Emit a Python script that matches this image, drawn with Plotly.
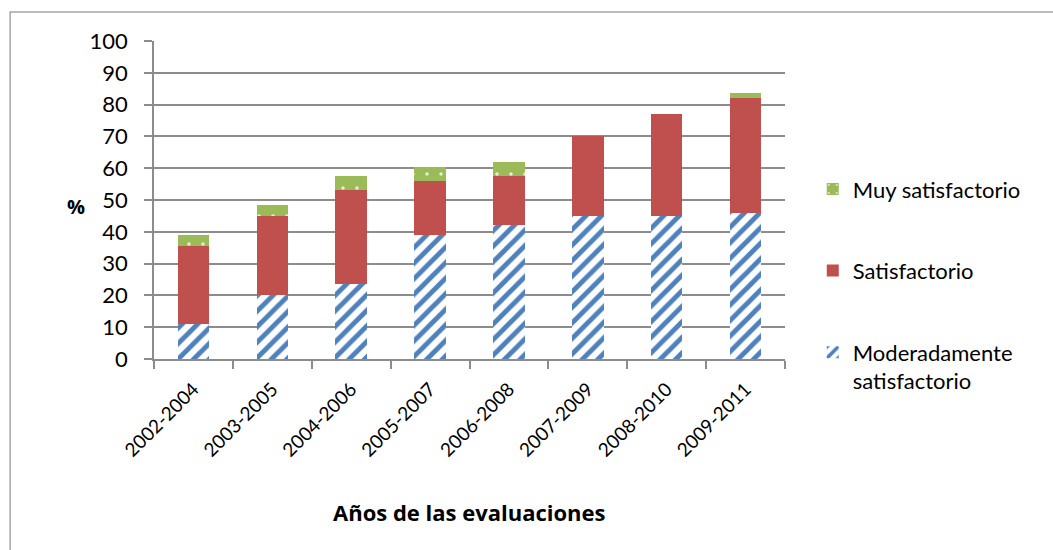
import plotly.graph_objects as go

# Evaluation periods and share of projects (%) by rating
periodos = ["2002-2004", "2003-2005", "2004-2006", "2005-2007",
            "2006-2008", "2007-2009", "2008-2010", "2009-2011"]
moderadamente = [11, 20, 23.5, 39, 42, 45, 45, 46]
satisfactorio = [24.5, 25, 29.5, 17, 15.5, 25, 32, 36]
muy_satisfactorio = [3.5, 3.5, 4.5, 4.5, 4.5, 0, 0, 1.5]
y_ticks = [0, 10, 20, 30, 40, 50, 60, 70, 80, 90, 100]

FONT = "Lato"
TITLE_FONT = "Open Sans"
GRID = "#8C8C8C"

fig = go.Figure()
fig.add_trace(go.Bar(
    x=periodos, y=moderadamente, name="Moderadamente<br>satisfactorio",
    legendgroup="m", legendrank=3,
    marker=dict(color="white", line=dict(width=0),
                pattern=dict(shape="/", fgcolor="#4F81BD", bgcolor="white",
                             size=11, solidity=0.45, fillmode="replace",
                             fgopacity=1)),
))
fig.add_trace(go.Bar(
    x=periodos, y=satisfactorio, name="Satisfactorio", legendgroup="s",
    legendrank=2,
    marker=dict(color="#C0504D", line=dict(width=0)),
))
fig.add_trace(go.Bar(
    x=periodos, y=muy_satisfactorio, name="Muy satisfactorio", legendgroup="v",
    legendrank=1,
    marker=dict(color="#9BBB59", line=dict(width=0),
                pattern=dict(shape=".", fgcolor="#E6EED6", bgcolor="#9BBB59",
                             size=14, solidity=0.05, fillmode="replace",
                             fgopacity=1)),
))

fig.update_layout(
    width=1053, height=550, autosize=False,
    margin=dict(l=154, r=268, t=41, b=191),
    paper_bgcolor="white", plot_bgcolor="white",
    barmode="stack", bargap=0.6,
    font=dict(family=FONT, size=21, color="black"),
    legend=dict(x=1.044, xanchor="left", y=0.6, yanchor="top",
                traceorder="grouped", tracegroupgap=50,
                valign="top", font=dict(size=22), itemwidth=30),
    showlegend=True,
)
fig.update_yaxes(
    range=[0, 100], tickvals=y_ticks, showgrid=True, gridcolor=GRID,
    gridwidth=1.5, showline=True, linecolor=GRID, linewidth=1.5,
    ticks="outside", ticklen=8, tickcolor=GRID, tickwidth=1.5,
    ticklabelstandoff=12, zeroline=False, fixedrange=True,
    tickfont=dict(size=22),
)
fig.update_xaxes(
    showline=True, linecolor=GRID, linewidth=1.5, ticks="outside",
    tickson="boundaries", ticklen=8, tickcolor=GRID, tickwidth=1.5,
    tickangle=-45, showgrid=False, fixedrange=True,
    ticklabelstandoff=10, tickfont=dict(size=19),
)

# Axis titles
fig.add_annotation(text="<b>Años de las evaluaciones</b>", xref="paper", yref="paper",
                   x=0.5, y=-0.481, yanchor="middle", showarrow=False,
                   font=dict(family=TITLE_FONT, size=22))
fig.add_annotation(text="<b>%</b>", xref="paper", yref="paper",
                   x=-0.141, y=0.478, yanchor="middle", showarrow=False,
                   font=dict(family=TITLE_FONT, size=20))

# Chart frame
fig.add_shape(type="rect", xref="paper", yref="paper",
              x0=-0.228, x1=1.45, y0=-0.7, y1=1.091,
              line=dict(color="#A6A6A6", width=1.5), layer="below")

fig.write_html("out.html")
